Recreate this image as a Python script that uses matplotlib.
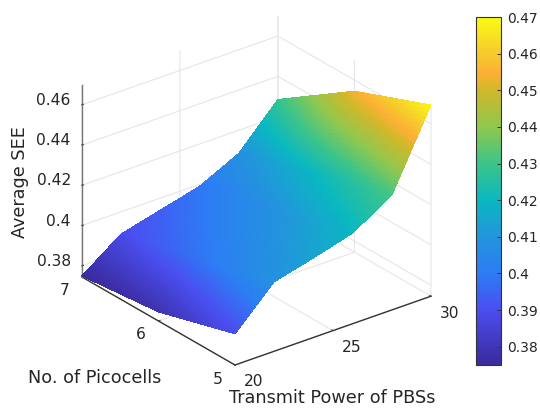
import numpy as np
import matplotlib
matplotlib.use("Agg")
import matplotlib.pyplot as plt
from matplotlib.colors import LinearSegmentedColormap, Normalize
from matplotlib.cm import ScalarMappable
from mpl_toolkits.mplot3d import proj3d

power = [20, 22, 24, 26, 28, 30]
picocells = [5, 6, 7]
see_5 = [0.390, 0.409, 0.414, 0.4195, 0.4315, 0.4695]
see_6 = [0.379, 0.398, 0.404, 0.409, 0.420, 0.4545]
see_7 = [0.375, 0.389, 0.394, 0.399, 0.4085, 0.4285]
x_ticks = [20, 25, 30]
y_ticks = [5, 6, 7]
z_ticks = [0.38, 0.40, 0.42, 0.44, 0.46]
z_labels = ["0.38", "0.4", "0.42", "0.44", "0.46"]
cbar_ticks = [0.38, 0.39, 0.40, 0.41, 0.42, 0.43, 0.44, 0.45, 0.46, 0.47]
cbar_labels = ["0.38", "0.39", "0.4", "0.41", "0.42", "0.43", "0.44", "0.45", "0.46", "0.47"]
color_values = [0.375, 0.39, 0.40, 0.41, 0.42, 0.43, 0.44, 0.45, 0.455, 0.46, 0.47]
color_stops = ["#3a2a9c", "#4a4ef0", "#2d7cf5", "#2295dc", "#0ab8c0", "#3cc48a",
               "#8fc84f", "#d0b82a", "#fdb035", "#f6c92c", "#f9fb15"]

W, H = 540, 412
FS = 11.2
LABEL_FS = 12.7
TXT = "#262626"
ZMIN = 0.3745
plt.rcParams["font.family"] = "DejaVu Sans"
fig = plt.figure(figsize=(W / 100, H / 100), dpi=100)
ax = fig.add_axes([0, 0, 1, 1], projection="3d")
ax.set_proj_type("ortho")
ax.view_init(elev=26.7, azim=-128)
ax.set_box_aspect((1, 1, 0.865))
ax.set_xlim(20, 30, view_margin=0)
ax.set_ylim(5, 7, view_margin=0)
ax.set_zlim(ZMIN, 0.47, view_margin=0)
ax.patch.set_alpha(0)

# smooth (interpolated) shading of the surface
Z = np.array([see_5, see_6, see_7])
n = 24
pf = np.linspace(0, len(power) - 1, (len(power) - 1) * n + 1)
nf = np.linspace(0, len(picocells) - 1, (len(picocells) - 1) * n * 2 + 1)
Zc = np.array([np.interp(pf, np.arange(len(power)), r) for r in Z])
Zf = np.array([np.interp(nf, np.arange(len(picocells)), c) for c in Zc.T]).T
Xf, Yf = np.meshgrid(np.interp(pf, np.arange(len(power)), power),
                     np.interp(nf, np.arange(len(picocells)), picocells))
vmin, vmax = color_values[0], color_values[-1]
cmap = LinearSegmentedColormap.from_list(
    "parula_like", [((v - vmin) / (vmax - vmin), c) for v, c in zip(color_values, color_stops)], N=256)
norm = Normalize(vmin, vmax)
ax.plot_surface(Xf, Yf, Zf, facecolors=cmap(norm(Zf)), rstride=1, cstride=1,
                shade=False, linewidth=0.25, antialiased=False, edgecolor="none")

ax.set_xticks(x_ticks)
ax.set_yticks(y_ticks)
ax.set_zticks(z_ticks)
ax.set_xticklabels([])
ax.set_yticklabels([])
ax.set_zticklabels([])
for a, col in ((ax.xaxis, "#333333"), (ax.yaxis, "#333333"), (ax.zaxis, "#777777")):
    a.set_pane_color((1, 1, 1, 0))
    a.pane.set_edgecolor((1, 1, 1, 0))
    a.line.set_color(col)
    a.line.set_linewidth(1.0)
    a._axinfo["grid"].update(color="#e6e6e6", linewidth=0.8)
    a._axinfo["tick"].update(inward_factor=0.0, outward_factor=0.1)
ax.tick_params(color="#444444", width=0.7)

# align the box with the reference frame: front corner and x-axis length
fig.canvas.draw()
def pix(x, y, z):
    a, b, _ = proj3d.proj_transform(x, y, z, ax.get_proj())
    return ax.transData.transform((a, b))
p0, p1 = pix(20, 5, ZMIN), pix(30, 5, ZMIN)
scale = 196.0 / (p1[0] - p0[0])
ax.set_box_aspect((1, 1, 0.865), zoom=scale)
fig.canvas.draw()
p0 = pix(20, 5, ZMIN)
dx, dy = (235 - p0[0]) / W, ((H - 365) - p0[1]) / H
ax.set_position([dx, dy, 1, 1])
fig.canvas.draw()

# tick labels placed relative to the projected tick positions (offsets in pixels)
def tick_label(point, text, ox, oy, ha="center"):
    px, py = pix(*point)
    fig.text((px + ox) / W, (py + oy) / H, text, ha=ha, va="center", fontsize=FS, color=TXT)

for v in x_ticks:
    tick_label((v, 5, ZMIN), str(v), 19, -17)
for v in y_ticks:
    tick_label((20, v, ZMIN), str(v), -17.5, -14)
for v, s in zip(z_ticks, z_labels):
    tick_label((20, 7, v), s, -11, 4.5, ha="right")

fig.text(20 / W, 1 - 182 / H, "Average SEE", rotation=90, ha="center", va="center", fontsize=LABEL_FS, color=TXT)
fig.text(94.5 / W, 1 - 378 / H, "No. of Picocells", ha="center", va="center", fontsize=LABEL_FS, color=TXT)
fig.text(332 / W, 1 - 398 / H, "Transmit Power of PBSs", ha="center", va="center", fontsize=LABEL_FS, color=TXT)

cax = fig.add_axes([476 / W, 1 - 365 / H, 24.5 / W, 348 / H])
cb = fig.colorbar(ScalarMappable(norm=norm, cmap=cmap), cax=cax)
cb.set_ticks(cbar_ticks)
cb.set_ticklabels(cbar_labels)
cax.tick_params(labelsize=10, labelcolor=TXT, direction="in", length=3, width=0.7, pad=5, color="#333333")
cb.outline.set_edgecolor("#333333")
cb.outline.set_linewidth(0.8)

fig.savefig("out.png", dpi=100)
